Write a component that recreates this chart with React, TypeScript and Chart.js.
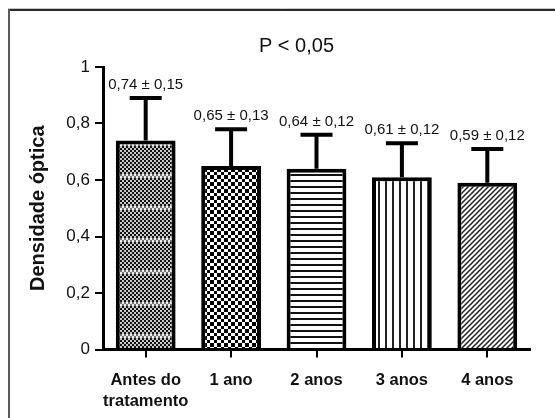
import React, { useEffect, useRef } from 'react';
import { Chart, registerables } from 'chart.js';

Chart.register(...registerables);

const categories: (string | string[])[] = [['Antes do', 'tratamento'], '1 ano', '2 anos', '3 anos', '4 anos'];
const means = [0.74, 0.65, 0.64, 0.61, 0.59];
const sds = [0.15, 0.13, 0.12, 0.12, 0.12];
const yTickLabels = ['0', '0,2', '0,4', '0,6', '0,8', '1'];
const titleText = 'P < 0,05';
const yAxisTitle = 'Densidade óptica';

const fmt = (v: number) => v.toFixed(2).replace('.', ',');

function makeTile(w: number, h: number, draw: (g: CanvasRenderingContext2D) => void) {
  const c = document.createElement('canvas');
  c.width = w;
  c.height = h;
  const g = c.getContext('2d') as CanvasRenderingContext2D;
  g.fillStyle = '#fff';
  g.fillRect(0, 0, w, h);
  draw(g);
  const ctx = document.createElement('canvas').getContext('2d') as CanvasRenderingContext2D;
  return ctx.createPattern(c, 'repeat') as CanvasPattern;
}

function buildPatterns(): CanvasPattern[] {
  // 1: fine checker with subtle lighter bands
  const p1 = makeTile(4, 32, (g) => {
    g.fillStyle = '#c8c8c8';
    g.fillRect(0, 0, 4, 32);
    g.fillStyle = '#141414';
    for (let y = 0; y < 32; y += 2) {
      for (let x = 0; x < 4; x += 2) {
        if (((x + y) / 2) % 2 === 0) g.fillRect(x, y, 2, 2);
      }
    }
    g.fillStyle = '#ececec';
    g.fillRect(0, 14, 4, 4);
    g.fillStyle = '#707070';
    g.fillRect(0, 14, 2, 2);
    g.fillRect(2, 16, 2, 2);
  });
  // 2: checkerboard
  const p2 = makeTile(14, 14, (g) => {
    const edges = [0, 4, 7, 11, 14];
    g.fillStyle = '#000';
    for (let r = 0; r < 4; r++) {
      for (let c = 0; c < 4; c++) {
        if ((r + c) % 2 === 0) g.fillRect(edges[c], edges[r], edges[c + 1] - edges[c], edges[r + 1] - edges[r]);
      }
    }
  });
  // 3: horizontal lines
  const p3 = makeTile(2, 6, (g) => {
    g.fillStyle = '#111';
    g.fillRect(0, 0, 2, 2);
  });
  // 4: vertical lines
  const p4 = makeTile(7, 2, (g) => {
    g.fillStyle = '#222';
    g.fillRect(0, 0, 2, 2);
  });
  // 5: diagonal lines
  const p5 = makeTile(5, 5, (g) => {
    g.strokeStyle = '#222';
    g.lineWidth = 1.5;
    g.beginPath();
    g.moveTo(-1, 6);
    g.lineTo(6, -1);
    g.moveTo(-2, 2);
    g.lineTo(2, -2);
    g.moveTo(3, 7);
    g.lineTo(7, 3);
    g.stroke();
  });
  return [p1, p2, p3, p4, p5];
}

export default function App() {
  const ref = useRef<HTMLCanvasElement | null>(null);

  useEffect(() => {
    if (!ref.current) return;
    const patterns = buildPatterns();

    const framePlugin = {
      id: 'frame',
      beforeDraw(chart: any) {
        const ctx = chart.ctx as CanvasRenderingContext2D;
        ctx.save();
        ctx.fillStyle = '#fff';
        ctx.fillRect(0, 0, chart.width, chart.height);
        ctx.strokeStyle = '#c8c8c8';
        ctx.lineWidth = 1;
        ctx.beginPath();
        ctx.moveTo(8, 8.5);
        ctx.lineTo(chart.width, 8.5);
        ctx.stroke();
        ctx.strokeStyle = '#2a2a2a';
        ctx.lineWidth = 2;
        ctx.beginPath();
        ctx.moveTo(8, 10);
        ctx.lineTo(chart.width, 10);
        ctx.stroke();
        ctx.strokeStyle = '#5a5a5a';
        ctx.beginPath();
        ctx.moveTo(9, 9);
        ctx.lineTo(9, chart.height);
        ctx.stroke();
        ctx.restore();
      },
    };

    const errorPlugin = {
      id: 'errbars',
      afterDatasetsDraw(chart: any) {
        const ctx = chart.ctx as CanvasRenderingContext2D;
        const yS = chart.scales.y;
        const meta = chart.getDatasetMeta(0);
        const area = chart.chartArea;
        ctx.save();
        ctx.strokeStyle = '#000';
        ctx.lineWidth = 4;
        ctx.fillStyle = '#111';
        ctx.font = '15px "Liberation Sans", Arial, sans-serif';
        ctx.textAlign = 'center';
        ctx.textBaseline = 'middle';
        meta.data.forEach((bar: any, i: number) => {
          const top = yS.getPixelForValue(means[i] + sds[i]);
          ctx.beginPath();
          ctx.moveTo(bar.x, bar.y);
          ctx.lineTo(bar.x, top);
          ctx.moveTo(bar.x - 16, top);
          ctx.lineTo(bar.x + 16, top);
          ctx.stroke();
          ctx.fillText(`${fmt(means[i])} ± ${fmt(sds[i])}`, bar.x, top - 13);
        });
        ctx.font = '20px "Liberation Sans", Arial, sans-serif';
        ctx.fillStyle = '#111';
        ctx.fillText(titleText, (area.left + area.right) / 2 - 20, 46);
        ctx.restore();
      },
    };

    const chart = new Chart(ref.current, {
      type: 'bar',
      data: {
        labels: categories as any,
        datasets: [
          {
            data: means,
            backgroundColor: patterns as any,
            borderColor: '#000',
            borderWidth: 4,
            borderSkipped: 'start',
            barPercentage: 0.7,
            categoryPercentage: 1,
          },
        ],
      },
      options: {
        responsive: false,
        animation: false,
        devicePixelRatio: 1,
        layout: { padding: { top: 67, right: 25, left: 22, bottom: 0 } },
        plugins: {
          legend: { display: false },
          tooltip: { enabled: false },
          title: { display: false },
        },
        scales: {
          x: {
            offset: true,
            grid: {
              display: true,
              offset: false,
              drawOnChartArea: false,
              drawTicks: true,
              tickLength: 8,
              color: '#000',
              lineWidth: 2,
            },
            border: { display: true, color: '#000', width: 3, z: 1 },
            ticks: {
              color: '#111',
              padding: 12,
              maxRotation: 0,
              autoSkip: false,
              font: { family: '"Liberation Sans", Arial, sans-serif', size: 16.5, weight: 'bold', lineHeight: 1.3 },
            },
            afterFit(scale: any) {
              scale.height = 68.5;
            },
          },
          y: {
            min: 0,
            max: 1,
            ticks: {
              stepSize: 0.2,
              color: '#111',
              padding: 5,
              font: { family: '"Liberation Sans", Arial, sans-serif', size: 17 },
              callback: (_v: any, i: number) => yTickLabels[i],
            },
            grid: {
              display: true,
              drawOnChartArea: false,
              drawTicks: true,
              tickLength: 8,
              color: '#000',
              lineWidth: 2,
            },
            border: { display: true, color: '#000', width: 3 },
            title: {
              display: true,
              text: yAxisTitle,
              color: '#111',
              font: { family: '"Liberation Sans", Arial, sans-serif', size: 20, weight: 'bold' },
              padding: { top: 4, bottom: 4 },
            },
            afterFit(scale: any) {
              scale.width = 81;
            },
          },
        },
      },
      plugins: [framePlugin, errorPlugin],
    } as any);

    return () => chart.destroy();
  }, []);

  return (
    <div style={{ position: 'fixed', left: 0, top: 0, width: 555, height: 418, background: '#fff' }}>
      <canvas ref={ref} width={555} height={418} style={{ display: 'block' }} />
    </div>
  );
}
